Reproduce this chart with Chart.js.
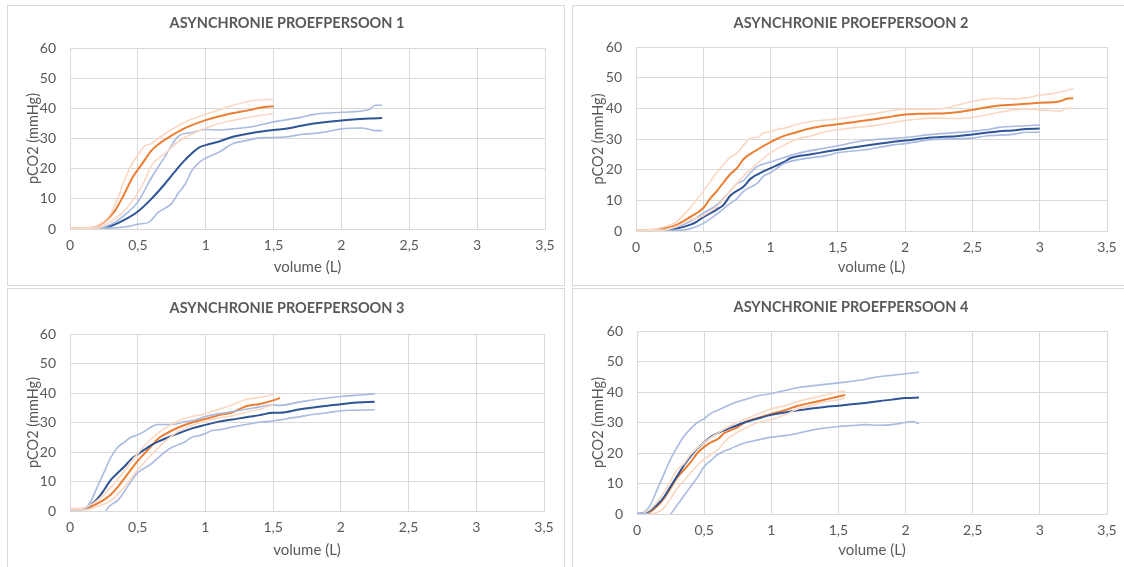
<!DOCTYPE html>
<html>
<head>
<meta charset="utf-8">
<script src="https://cdn.jsdelivr.net/npm/chart.js@4"></script>
<style>
  html, body { margin: 0; padding: 0; background: #fff; overflow: hidden; }
  body { width: 1124px; height: 567px; position: relative; }
  .panel { position: absolute; border: 1px solid #d9d9d9; box-sizing: border-box; background: #fff; }
  .panel canvas { position: absolute; left: 0; top: 0; }
</style>
</head>
<body>
<div class="panel" id="wrap1" style="left:7px;top:5px;width:558px;height:281px"><canvas id="c1"></canvas></div>
<div class="panel" id="wrap2" style="left:572px;top:5px;width:560px;height:281px"><canvas id="c2"></canvas></div>
<div class="panel" id="wrap3" style="left:7px;top:288px;width:558px;height:290px"><canvas id="c3"></canvas></div>
<div class="panel" id="wrap4" style="left:572px;top:288px;width:560px;height:290px"><canvas id="c4"></canvas></div>
<script>
// volume (L) / pCO2 (mmHg) pairs
const titles = ['ASYNCHRONIE PROEFPERSOON 1', 'ASYNCHRONIE PROEFPERSOON 2', 'ASYNCHRONIE PROEFPERSOON 3', 'ASYNCHRONIE PROEFPERSOON 4'];
const xTicks = [0, 0.5, 1, 1.5, 2, 2.5, 3, 3.5];
const yTicks = [0, 10, 20, 30, 40, 50, 60];

const p1OrangeMean = [[0,0.3],[0.1,0.3],[0.18,0.6],[0.25,2.2],[0.33,6],[0.4,11.6],[0.46,17],[0.53,21.5],[0.6,26],[0.67,28.7],[0.75,31],[0.85,33.5],[1,36.1],[1.17,38.1],[1.32,39.4],[1.41,40.3],[1.5,40.7]];
const p1OrangeHi = [[0,0.3],[0.1,0.4],[0.2,1],[0.3,5],[0.35,10],[0.4,16],[0.45,21],[0.5,24.5],[0.55,27.5],[0.6,28.3],[0.65,30],[0.75,33],[0.85,35.5],[1,38],[1.1,39.5],[1.2,41],[1.35,42.6],[1.5,43]];
const p1OrangeLo = [[0,0.2],[0.1,0.2],[0.2,0.3],[0.3,2.5],[0.4,6],[0.5,12],[0.55,16],[0.6,21],[0.7,25],[0.8,29],[0.9,31.5],[1,33.5],[1.1,35],[1.2,36],[1.35,37.3],[1.5,38.3]];
const p1BlueMean = [[0,0],[0.2,0.3],[0.3,1],[0.4,3],[0.5,5.8],[0.6,10],[0.7,15],[0.8,20.5],[0.85,23],[0.95,27],[1,27.8],[1.1,29],[1.2,30.6],[1.3,31.5],[1.4,32.2],[1.5,32.8],[1.6,33.3],[1.7,34.2],[1.8,35],[2,36],[2.2,36.6],[2.3,36.8]];
const p1BlueHi = [[0,0.2],[0.2,0.3],[0.3,1.5],[0.4,4.5],[0.5,9],[0.6,17],[0.7,24],[0.8,30.8],[0.9,32],[1,33],[1.1,32.8],[1.2,33.2],[1.35,34],[1.5,35.5],[1.7,37],[1.8,38],[2,38.7],[2.2,39.5],[2.25,41],[2.3,41]];
const p1BlueLo = [[0,0],[0.3,0.3],[0.45,1],[0.5,1.6],[0.58,2.2],[0.65,5.5],[0.75,8.5],[0.8,12],[0.85,15],[0.9,19.5],[0.95,22],[1,23.5],[1.1,25.5],[1.2,28.3],[1.3,29.3],[1.4,30.2],[1.5,30.3],[1.6,30.6],[1.7,31.3],[1.8,31.7],[1.9,32.3],[2,33.2],[2.15,33.5],[2.25,32.6],[2.3,32.6]];

const p2OrangeMean = [[0,0.3],[0.1,0.3],[0.2,0.8],[0.3,2],[0.4,4.5],[0.5,7.5],[0.55,10.5],[0.6,13],[0.7,18.5],[0.75,20.5],[0.8,23.5],[0.9,26.5],[1,29],[1.1,31],[1.2,32.3],[1.3,33.5],[1.4,34.3],[1.5,34.8],[1.6,35.4],[1.7,36],[1.8,36.6],[1.9,37.3],[2,38],[2.1,38.2],[2.2,38.3],[2.3,38.4],[2.4,38.8],[2.5,39.5],[2.6,40.3],[2.7,40.9],[2.8,41.2],[2.9,41.5],[3,41.8],[3.1,42],[3.15,42.3],[3.2,43.1],[3.25,43.3]];
const p2OrangeHi = [[0,0.3],[0.1,0.4],[0.2,1.2],[0.3,3],[0.4,7.5],[0.5,13],[0.6,19],[0.7,24],[0.75,25.5],[0.8,28],[0.85,30.3],[0.9,30.5],[0.95,32],[1,32.3],[1.05,33.2],[1.1,33.5],[1.2,34.8],[1.3,35.7],[1.4,36.2],[1.5,36.5],[1.6,37.2],[1.7,37.8],[1.8,38.5],[1.9,39.3],[2,39.7],[2.2,39.7],[2.3,40],[2.4,41.2],[2.5,42.2],[2.6,43],[2.7,43.3],[2.8,43],[2.9,43.4],[3,44.3],[3.1,44.8],[3.2,45.8],[3.25,46.5]];
const p2OrangeLo = [[0,0.2],[0.1,0.2],[0.2,0.3],[0.3,1.5],[0.4,3.5],[0.5,5],[0.6,8],[0.7,13],[0.8,18],[0.9,22],[1,25.5],[1.1,28],[1.2,30],[1.3,31],[1.4,32.3],[1.5,33],[1.6,33.6],[1.7,34],[1.8,34.6],[1.9,35.3],[2,36],[2.2,36.8],[2.4,36.7],[2.5,37],[2.6,37.8],[2.7,38.7],[2.8,39.5],[2.9,39.8],[3,39.5],[3.1,39.2],[3.15,39],[3.2,40],[3.25,40]];
const p2BlueMean = [[0,0],[0.2,0.2],[0.3,0.8],[0.4,2],[0.45,3],[0.5,4.5],[0.6,7],[0.65,8.5],[0.7,11.5],[0.8,14.5],[0.85,17],[0.95,19.5],[1,20.5],[1.1,22.5],[1.15,23.8],[1.3,25],[1.5,26.5],[1.7,27.8],[1.9,29],[2,29.5],[2.2,30.5],[2.4,31],[2.5,31.5],[2.6,32],[2.7,32.5],[2.8,32.8],[2.9,33.3],[3,33.4]];
const p2BlueHi = [[0,0.1],[0.2,0.3],[0.3,1.3],[0.4,3],[0.5,5.8],[0.6,8.5],[0.7,13],[0.75,15.5],[0.8,16.5],[0.85,19],[0.9,21],[1,22.5],[1.1,24],[1.2,25.3],[1.4,27],[1.5,27.8],[1.7,29.5],[2,30.5],[2.2,31.5],[2.5,32.5],[2.6,33],[2.7,33.8],[2.9,34.3],[3,34.6]];
const p2BlueLo = [[0,0],[0.3,0.2],[0.4,0.7],[0.5,2.5],[0.6,5.5],[0.7,9],[0.75,10.5],[0.8,13],[0.9,15.5],[0.95,18],[1,19],[1.1,22],[1.2,23.2],[1.4,24.5],[1.5,25.5],[1.7,26.5],[1.9,28],[2,28.5],[2.2,29.8],[2.5,30.3],[2.6,31],[2.8,31.5],[2.9,32.2],[3,32.2]];

const p3OrangeMean = [[0.05,0.5],[0.1,0.8],[0.15,1.3],[0.2,2.5],[0.25,3.8],[0.3,5.5],[0.35,8],[0.4,11],[0.45,14],[0.5,17],[0.55,19.5],[0.6,22],[0.65,24.5],[0.7,26],[0.8,28.3],[0.9,30],[1,31.2],[1.1,32.5],[1.2,33.5],[1.3,35.5],[1.4,36.3],[1.5,37.5],[1.55,38.3]];
const p3OrangeHi = [[0,0.8],[0.1,1],[0.2,3.5],[0.3,8],[0.4,13.5],[0.5,19.5],[0.6,24.5],[0.7,28],[0.8,30.5],[0.9,32],[1,33],[1.1,34.5],[1.2,36],[1.3,37.8],[1.4,38.5],[1.5,39.5]];
const p3OrangeLo = [[0,0.5],[0.1,0.3],[0.2,1.5],[0.3,3.5],[0.4,8],[0.5,14],[0.6,19],[0.7,23.5],[0.8,27],[0.9,29],[1,30.5],[1.1,31.5],[1.2,32.3],[1.3,33.5],[1.4,34.5],[1.5,36]];
const p3BlueMean = [[0,0.3],[0.08,0],[0.1,0.6],[0.15,2],[0.2,4],[0.25,7],[0.3,10.5],[0.35,12.8],[0.4,15],[0.45,17.5],[0.5,19.3],[0.55,20.8],[0.6,22.3],[0.65,23.5],[0.7,24.5],[0.8,26.3],[0.9,28],[1,29.2],[1.1,30.3],[1.2,31],[1.3,31.8],[1.4,32.5],[1.5,33.3],[1.55,33.3],[1.7,34.5],[1.9,35.7],[2,36.2],[2.1,36.7],[2.25,37]];
const p3BlueHi = [[0,0.3],[0.1,0.5],[0.15,3],[0.2,8],[0.25,13],[0.3,18],[0.35,21.5],[0.4,23.3],[0.45,25],[0.5,25.8],[0.55,27],[0.6,28.5],[0.65,29.3],[0.75,29.3],[0.85,30.3],[0.9,30.6],[1,32],[1.1,33],[1.2,33.7],[1.3,34.5],[1.4,35.3],[1.5,36],[1.55,35.8],[1.7,37],[1.9,38.3],[2,38.8],[2.1,39.2],[2.2,39.5],[2.25,39.8]];
const p3BlueLo = [[0,0],[0.1,0],[0.17,-0.5],[0.25,-0.5],[0.28,1],[0.3,2],[0.35,3.5],[0.4,6.5],[0.45,10],[0.5,13],[0.55,14.5],[0.6,16],[0.65,18],[0.7,20],[0.75,21.5],[0.8,22.5],[0.85,23.5],[0.9,25],[0.95,25.5],[1,26.3],[1.05,27.3],[1.1,27.5],[1.2,28.5],[1.3,29.3],[1.4,30.1],[1.5,30.5],[1.6,31.3],[1.7,32],[1.8,32.8],[1.9,33.3],[2,34],[2.25,34.3]];

const p4OrangeMean = [[0.05,0.3],[0.1,0.8],[0.15,2.5],[0.2,5],[0.25,8.5],[0.3,12],[0.35,14.5],[0.4,17],[0.45,20],[0.5,22],[0.55,23.5],[0.6,24.5],[0.65,26.5],[0.7,27.5],[0.75,28.5],[0.8,30],[0.9,31.5],[1,32.8],[1.1,34],[1.2,35.5],[1.3,36.5],[1.4,37.5],[1.5,38.5],[1.55,39]];
const p4OrangeHi = [[0.05,0.5],[0.1,1.5],[0.2,7],[0.3,14.5],[0.35,16.5],[0.4,19.5],[0.5,23.5],[0.6,26.5],[0.7,29],[0.8,31],[0.9,32.8],[1,34.5],[1.1,35.5],[1.2,37],[1.3,38],[1.4,39],[1.5,40],[1.55,40.3]];
const p4OrangeLo = [[0.1,0],[0.15,0.5],[0.2,2],[0.25,5],[0.3,8.5],[0.35,11],[0.4,13.5],[0.45,16],[0.5,18],[0.55,19.5],[0.6,21],[0.65,23.5],[0.7,25.5],[0.8,28],[0.9,30],[1,31],[1.1,32.5],[1.2,34.5],[1.3,35.5],[1.4,36.8],[1.5,37.5],[1.55,38]];
const p4BlueMean = [[0,0],[0.05,0.3],[0.1,1.2],[0.15,3],[0.2,5.5],[0.25,9],[0.3,12.5],[0.35,16],[0.4,19],[0.45,21.5],[0.5,23.5],[0.55,25.3],[0.6,26.5],[0.7,28.3],[0.8,30],[0.9,31.3],[1,32.5],[1.1,33.3],[1.2,34],[1.3,34.6],[1.4,35.1],[1.5,35.5],[1.6,36],[1.7,36.4],[1.8,37],[1.9,37.5],[2,38],[2.1,38.2]];
const p4BlueHi = [[0,0],[0.05,0.5],[0.1,3],[0.15,8],[0.2,13],[0.25,18],[0.3,22],[0.35,25.5],[0.4,28],[0.45,30],[0.5,31.2],[0.55,33],[0.6,34],[0.7,36],[0.8,37.5],[0.9,38.8],[1,39.5],[1.1,40.5],[1.2,41.5],[1.3,42],[1.4,42.5],[1.5,43],[1.6,43.5],[1.7,44.2],[1.8,45],[1.9,45.5],[2,46],[2.1,46.5]];
const p4BlueLo = [[0,0.3],[0.1,0],[0.2,-1],[0.25,0],[0.3,3],[0.35,6],[0.4,9],[0.45,12],[0.5,15.5],[0.55,17.5],[0.6,19.5],[0.7,21.5],[0.8,23.3],[0.9,24.3],[1,25.2],[1.1,25.7],[1.2,26.5],[1.3,27.5],[1.4,28.2],[1.5,28.7],[1.6,29],[1.7,29.3],[1.8,29.1],[1.9,29.3],[2,30],[2.05,30.3],[2.1,29.6]];

const panels = [
  { id: 'c1', w: 558, h: 281, left: 62, right: 537, top: 42, bottom: 223, titleY: 17, xTitleY: 261,
    series: [p1OrangeHi, p1OrangeLo, p1BlueHi, p1BlueLo, p1BlueMean, p1OrangeMean] },
  { id: 'c2', w: 556, h: 281, left: 63, right: 534, top: 41, bottom: 225, titleY: 17, xTitleY: 261,
    series: [p2OrangeHi, p2OrangeLo, p2BlueHi, p2BlueLo, p2BlueMean, p2OrangeMean] },
  { id: 'c3', w: 558, h: 279, left: 62, right: 536, top: 45, bottom: 222, titleY: 19, xTitleY: 261,
    series: [p3OrangeHi, p3OrangeLo, p3BlueHi, p3BlueLo, p3BlueMean, p3OrangeMean] },
  { id: 'c4', w: 556, h: 279, left: 64, right: 534, top: 42, bottom: 225, titleY: 18, xTitleY: 261,
    series: [p4OrangeHi, p4OrangeLo, p4BlueHi, p4BlueLo, p4BlueMean, p4OrangeMean] }
];

const lineColors = ['#fad8c3', '#fad8c3', '#a9bae3', '#a9bae3', '#2f5597', '#ed7d31'];
const lineWidths = [1.6, 1.6, 1.6, 1.6, 2, 2];
const txt = '#595959';
const grid = '#d9d9d9';
const fam = 'Lato, "Open Sans", sans-serif';

panels.forEach((p, i) => {
  const canvas = document.getElementById(p.id);
  canvas.width = p.w;
  canvas.height = p.h;
  canvas.style.width = p.w + 'px';
  canvas.style.height = p.h + 'px';

  const titleSize = 14.5;
  const titleLine = titleSize * 1.2;
  const tTop = p.titleY - titleLine / 2;
  const axSize = 15;

  new Chart(canvas.getContext('2d'), {
    type: 'scatter',
    data: {
      datasets: p.series.map((s, k) => ({
        data: s.map(pt => ({ x: pt[0], y: pt[1] })),
        showLine: true,
        borderColor: lineColors[k],
        borderWidth: lineWidths[k],
        pointRadius: 0,
        cubicInterpolationMode: 'monotone',
        fill: false
      }))
    },
    options: {
      responsive: false,
      animation: false,
      layout: { padding: 0 },
      plugins: {
        legend: { display: false },
        tooltip: { enabled: false },
        title: {
          display: true,
          text: titles[i],
          color: txt,
          font: { family: fam, size: titleSize, weight: 'bold', lineHeight: 1.2 },
          padding: { top: tTop, bottom: p.top - tTop - titleLine }
        }
      },
      scales: {
        x: {
          type: 'linear',
          min: 0,
          max: 3.5,
          afterBuildTicks: ax => { ax.ticks = xTicks.map(v => ({ value: v })); },
          afterFit: ax => { ax.height = p.h - p.bottom; },
          grid: { color: grid, drawTicks: false },
          border: { color: grid },
          ticks: {
            color: txt,
            font: { family: fam, size: 14 },
            padding: 8,
            maxRotation: 0,
            callback: v => String(v).replace('.', ',')
          },
          title: {
            display: true,
            text: 'volume (L)',
            color: txt,
            font: { family: fam, size: axSize, lineHeight: 1.2 },
            padding: { top: 0, bottom: p.h - p.xTitleY - axSize * 0.6 }
          }
        },
        y: {
          min: 0,
          max: 60,
          afterBuildTicks: ax => { ax.ticks = yTicks.map(v => ({ value: v })); },
          afterFit: ax => { ax.width = p.left; },
          grid: { color: grid, drawTicks: false },
          border: { color: grid },
          ticks: {
            color: txt,
            font: { family: fam, size: 14 },
            padding: 14
          },
          title: {
            display: true,
            text: 'pCO2 (mmHg)',
            color: txt,
            font: { family: fam, size: 14.5, lineHeight: 1.2 },
            padding: { top: 25 - 14.5 * 0.6, bottom: 0 }
          }
        },
        // empty right-hand spacer so the title stays centred on the whole panel
        spacer: {
          position: 'right',
          min: 0,
          max: 60,
          grid: { display: false },
          border: { display: false },
          ticks: { display: false },
          afterFit: ax => { ax.width = p.w - p.right; }
        }
      }
    }
  });
});
</script>
</body>
</html>
